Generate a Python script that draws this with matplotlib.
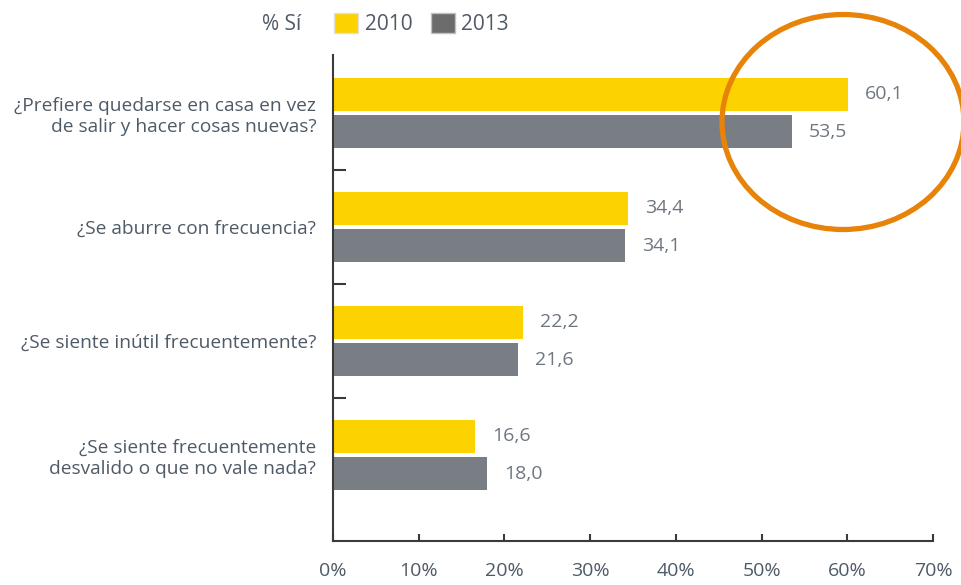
import numpy as np
import matplotlib
matplotlib.use("Agg")
import matplotlib.pyplot as plt
from matplotlib.patches import Ellipse, Patch
from matplotlib.transforms import IdentityTransform

# data
preguntas = ["¿Prefiere quedarse en casa en vez\nde salir y hacer cosas nuevas?",
             "¿Se aburre con frecuencia?",
             "¿Se siente inútil frecuentemente?",
             "¿Se siente frecuentemente\ndesvalido o que no vale nada?"]
v2010 = [60.1, 34.4, 22.2, 16.6]
v2013 = [53.5, 34.1, 21.6, 18.0]
years = ["2010", "2013"]
xticks = [0, 10, 20, 30, 40, 50, 60, 70]

yellow = "#FCD200"
gray = "#787E83"
txt = "#4E5A66"
plt.rcParams['font.family'] = ['Open Sans', 'DejaVu Sans']

fig = plt.figure(figsize=(9.61, 5.85), dpi=100)
ax = fig.add_axes([333/961, 1-541/585, 600/961, 486/585])

pos = np.arange(len(preguntas))[::-1]
h = 0.29
off = 0.165
ax.barh(pos + off, v2010, height=h, color=yellow)
ax.barh(pos - off, v2013, height=h, color=gray)

for p, a, b in zip(pos, v2010, v2013):
    ax.text(a + 2, p + off, f"{a:.1f}".replace(".", ","), va="center", ha="left",
            fontsize=14, color="#6E7780")
    ax.text(b + 2, p - off, f"{b:.1f}".replace(".", ","), va="center", ha="left",
            fontsize=14, color="#6E7780")

ax.set_xlim(0, 70)
ax.set_ylim(-0.754, 3.51)
ax.set_xticks(xticks)
ax.set_xticklabels([f"{t}%" for t in xticks], fontsize=14, color=txt)
ax.set_yticks(pos)
ax.set_yticklabels(preguntas, fontsize=13.8, color=txt, linespacing=1.2)
ax.set_yticks([0.5, 1.5, 2.5], minor=True)
ax.tick_params(axis="y", which="major", length=0, pad=12)
ax.tick_params(axis="y", which="minor", direction="in", length=9, width=1.5, color="#3A3A3A")
ax.tick_params(axis="x", direction="in", length=5, width=1.5, color="#3A3A3A", pad=15)
for s in ["top", "right"]:
    ax.spines[s].set_visible(False)
for s in ["left", "bottom"]:
    ax.spines[s].set_color("#3A3A3A")
    ax.spines[s].set_linewidth(1.5)

# legend
fig.text(262/961, 1-24/585, "% Sí", fontsize=15, color=txt, va="center", ha="left")
handles = [Patch(facecolor=yellow, edgecolor="#E0E0E0"),
           Patch(facecolor="#6C6C6C", edgecolor="#C0C0C0")]
fig.legend(handles, years, loc="center left", bbox_to_anchor=(326/961, 1-24/585),
           ncol=2, frameon=False, fontsize=15, handlelength=1.15, handleheight=1.15,
           handletextpad=0.3, columnspacing=0.9, labelcolor=txt, borderaxespad=0)

# highlight circle
ell = Ellipse((843, 585-122), 242, 215, fill=False, edgecolor="#E8830A", linewidth=3.8,
              transform=IdentityTransform())
fig.add_artist(ell)

fig.savefig("out.png", dpi=100)
